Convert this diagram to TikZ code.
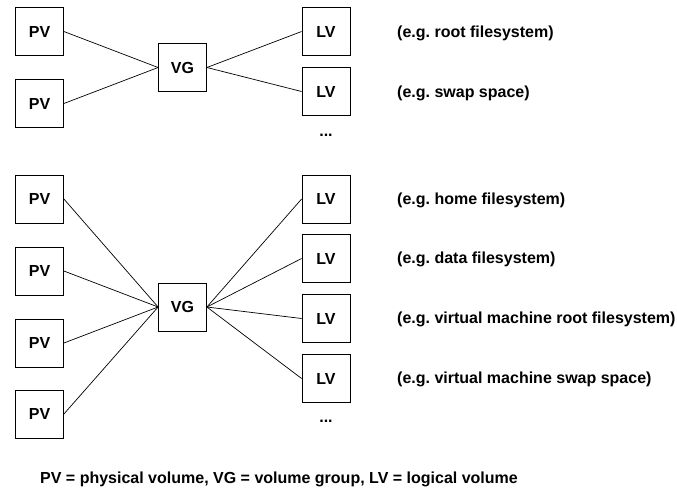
\documentclass[tikz,border=0pt]{standalone}
\usepackage{fontspec}
\setmainfont{Liberation Sans}
\usepackage{tikz}
\usetikzlibrary{positioning}
\frenchspacing
\tikzset{
    % Volume box style
    volbox/.style={
        draw=black,
        fill=white,
        line width=0.8pt,
        minimum width=48pt,
        minimum height=48pt,
        inner sep=0pt,
        font=\fontsize{16}{19}\selectfont\bfseries
    },
    % Example text beside a logical volume
    notetext/.style={
        anchor=west,
        inner sep=0pt,
        font=\fontsize{16}{19}\selectfont\bfseries
    },
    % Connector
    link/.style={
        line width=0.7pt,
        draw=black
    }
}
\begin{document}
\begin{tikzpicture}[x=1pt, y=-1pt]
                \useasboundingbox (0,0) rectangle (677,493);

                % First group: physical volumes
                \node[volbox] (pva) at (39.5,31.5) {PV};
                \node[volbox] (pvb) at (39.5,103.5) {PV};

                % Volume group
                \node[volbox] (vgtop) at (182.5,67.5) {VG};

                % Logical volumes
                \node[volbox] (lva) at (326,31.5) {LV};
                \node[volbox] (lvb) at (326,91.5) {LV};
                \node[notetext, anchor=center] (moretop) at (326,135) {...};

                % Notes
                \node[notetext] (notea) at (397,33) {(e.g. root filesystem)};
                \node[notetext] (noteb) at (397,93) {(e.g. swap space)};

                % Links
                \draw[link] (pva.east) -- (vgtop.west);
                \draw[link] (pvb.east) -- (vgtop.west);
                \draw[link] (vgtop.east) -- (lva.west);
                \draw[link] (vgtop.east) -- (lvb.west);

                % Second group: physical volumes
                \node[volbox] (pvc) at (39.5,199) {PV};
                \node[volbox] (pvd) at (39.5,271) {PV};
                \node[volbox] (pve) at (39.5,343) {PV};
                \node[volbox] (pvf) at (39.5,414) {PV};

                % Volume group
                \node[volbox] (vgbot) at (182.5,307) {VG};

                % Logical volumes
                \node[volbox] (lvc) at (326,199) {LV};
                \node[volbox] (lvd) at (326,258.5) {LV};
                \node[volbox] (lve) at (326,318.5) {LV};
                \node[volbox] (lvf) at (326,378.5) {LV};
                \node[notetext, anchor=center] (morebot) at (326,421) {...};

                % Notes
                \node[notetext] (notec) at (397,200) {(e.g. home filesystem)};
                \node[notetext] (noted) at (397,259) {(e.g. data filesystem)};
                \node[notetext] (notee) at (397,319) {(e.g. virtual machine root filesystem)};
                \node[notetext] (notef) at (397,379) {(e.g. virtual machine swap space)};

                % Links
                \draw[link] (pvc.east) -- (vgbot.west);
                \draw[link] (pvd.east) -- (vgbot.west);
                \draw[link] (pve.east) -- (vgbot.west);
                \draw[link] (pvf.east) -- (vgbot.west);
                \draw[link] (vgbot.east) -- (lvc.west);
                \draw[link] (vgbot.east) -- (lvd.west);
                \draw[link] (vgbot.east) -- (lve.west);
                \draw[link] (vgbot.east) -- (lvf.west);

                % Legend
                \node[notetext] (legend) at (40,479) {PV = physical volume, VG = volume group, LV = logical volume};
            \end{tikzpicture}
\end{document}
